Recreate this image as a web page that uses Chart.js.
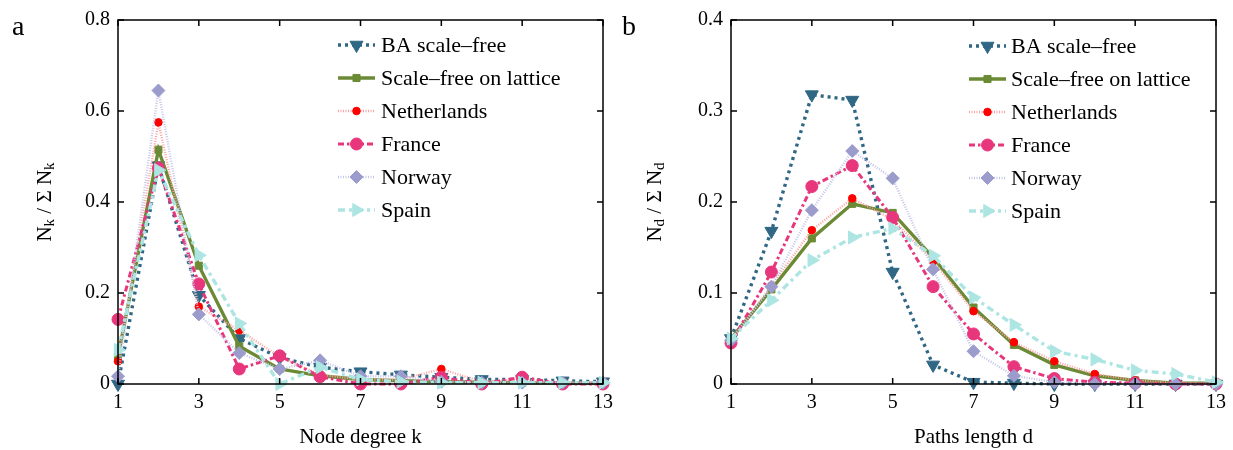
<!DOCTYPE html>
<html>
<head>
<meta charset="utf-8">
<script src="https://cdn.jsdelivr.net/npm/chart.js@4/dist/chart.umd.min.js"></script>
<style>
  body { margin: 0; background: #fff; }
  #wrap { position: relative; width: 1233px; height: 450px; background: #fff; }
  .panel { position: absolute; top: 0; width: 620px; height: 450px; }
  .tag { position: absolute; top: 10px; font: 28px "Liberation Serif", serif; color: #000; }
</style>
</head>
<body>
<div id="wrap">
  <div class="panel" style="left:0"><canvas id="chartA"></canvas></div>
  <div class="panel" style="left:613px"><canvas id="chartB"></canvas></div>
  <div class="tag" style="left:12px">a</div>
  <div class="tag" style="left:622px">b</div>
</div>
<script>
// x values
const nodeDegree = [1, 2, 3, 4, 5, 6, 7, 8, 9, 10, 11, 12, 13];
const pathLength = [1, 2, 3, 4, 5, 6, 7, 8, 9, 10, 11, 12, 13];

// panel a : N_k / sum N_k
const degBA = [0.0, 0.48, 0.195, 0.10, 0.058, 0.037, 0.027, 0.02, 0.015, 0.01, 0.01, 0.007, 0.005];
const degLattice = [0.06, 0.515, 0.26, 0.083, 0.033, 0.018, 0.01, 0.007, 0.005, 0.004, 0.003, 0.002, 0.002];
const degNetherlands = [0.05, 0.575, 0.17, 0.118, 0.06, 0.02, 0.01, 0.01, 0.033, 0.005, 0.01, 0.003, 0.003];
const degFrance = [0.142, 0.475, 0.22, 0.033, 0.062, 0.016, 0.0, 0.0, 0.015, 0.0, 0.015, 0.0, 0.0];
const degNorway = [0.017, 0.645, 0.153, 0.068, 0.033, 0.052, 0.017, 0.017, 0.005, 0.003, 0.003, 0.003, 0.003];
const degSpain = [0.075, 0.47, 0.283, 0.133, 0.0, 0.037, 0.01, 0.005, 0.003, 0.003, 0.003, 0.003, 0.003];

// panel b : N_d / sum N_d
const pathBA = [0.05, 0.168, 0.318, 0.312, 0.123, 0.021, 0.002, 0.001, 0.0, 0.0, 0.0, 0.0, 0.0];
const pathLattice = [0.05, 0.104, 0.16, 0.198, 0.188, 0.139, 0.084, 0.043, 0.021, 0.009, 0.004, 0.001, 0.001];
const pathNetherlands = [0.048, 0.108, 0.169, 0.204, 0.181, 0.135, 0.08, 0.046, 0.025, 0.011, 0.004, 0.001, 0.0];
const pathFrance = [0.045, 0.123, 0.217, 0.24, 0.183, 0.107, 0.055, 0.019, 0.006, 0.002, 0.001, 0.0, 0.0];
const pathNorway = [0.048, 0.107, 0.191, 0.256, 0.226, 0.126, 0.036, 0.009, 0.002, 0.0, 0.0, 0.0, 0.0];
const pathSpain = [0.05, 0.092, 0.136, 0.161, 0.171, 0.141, 0.095, 0.065, 0.036, 0.027, 0.015, 0.011, 0.002];

const seriesNames = ["BA scale\u2013free", "Scale\u2013free on lattice", "Netherlands", "France", "Norway", "Spain"];
const xTicksA = [1, 3, 5, 7, 9, 11, 13];
const yTicksA = [0, 0.2, 0.4, 0.6, 0.8];
const yTicksB = [0, 0.1, 0.2, 0.3, 0.4];

Chart.defaults.font.family = '"Liberation Serif", "Times New Roman", serif';
Chart.defaults.font.size = 20;
Chart.defaults.color = "#000";

// line + marker look of each series
const looks = [
  { color: "#2f6784", line: "#2f6784", width: 3.4, dash: [3, 4], style: "triangle", rot: 180, r: 7.5 },
  { color: "#6b8a35", line: "#6b8a35", width: 3.4, dash: [], style: "rect", rot: 0, r: 5 },
  { color: "#ff0000", line: "#ffa0a0", width: 2.4, dash: [1, 1.5], style: "circle", rot: 0, r: 3.8 },
  { color: "#e8367c", line: "#e8367c", width: 3, dash: [6, 3, 2.5, 3], style: "circle", rot: 0, r: 6 },
  { color: "#9c9ccc", line: "#c4c4ea", width: 2.4, dash: [1, 1.5], style: "rectRot", rot: 0, r: 6.5 },
  { color: "#ade5e3", line: "#ade5e3", width: 3.4, dash: [7, 4, 3, 4], style: "triangle", rot: 90, r: 7.5 }
];

function makeSets(xs, lists) {
  return lists.map((ys, i) => {
    const lk = looks[i];
    return {
      label: seriesNames[i],
      data: xs.map((x, j) => ({ x: x, y: ys[j] })),
      borderColor: lk.line,
      borderWidth: lk.width,
      borderDash: lk.dash,
      backgroundColor: lk.color,
      pointBackgroundColor: lk.color,
      pointBorderColor: lk.color,
      pointBorderWidth: 1,
      pointStyle: lk.style,
      pointRotation: lk.rot,
      pointRadius: lk.r,
      tension: 0,
      clip: false,
      order: 6 - i
    };
  });
}

// box, inward ticks, y title with subscripts, legend
const decoPlugin = {
  id: "deco",
  afterDatasetsDraw(chart, args, opts) {
    const ctx = chart.ctx;
    const a = chart.chartArea;
    const xs = chart.scales.x, ys = chart.scales.y;
    ctx.save();
    ctx.strokeStyle = "#000";
    ctx.lineWidth = 1.5;
    ctx.setLineDash([]);
    ctx.strokeRect(a.left, a.top, a.right - a.left, a.bottom - a.top);
    const tl = 6;
    ctx.beginPath();
    xs.ticks.forEach(t => {
      const px = xs.getPixelForValue(t.value);
      ctx.moveTo(px, a.bottom); ctx.lineTo(px, a.bottom - tl);
      ctx.moveTo(px, a.top); ctx.lineTo(px, a.top + tl);
    });
    ys.ticks.forEach(t => {
      const py = ys.getPixelForValue(t.value);
      ctx.moveTo(a.left, py); ctx.lineTo(a.left + tl, py);
      ctx.moveTo(a.right, py); ctx.lineTo(a.right - tl, py);
    });
    ctx.stroke();

    // y title: N_s / Σ N_s
    const big = '21px "Liberation Serif", serif';
    const small = '15px "Liberation Serif", serif';
    const parts = [["N", big, 0], [opts.sub, small, 5], [" / \u03A3 N", big, 0], [opts.sub, small, 5]];
    let total = 0;
    parts.forEach(p => { ctx.font = p[1]; total += ctx.measureText(p[0]).width; });
    ctx.translate(opts.titleX, (a.top + a.bottom) / 2);
    ctx.rotate(-Math.PI / 2);
    ctx.fillStyle = "#000";
    ctx.textBaseline = "middle";
    let cx = -total / 2;
    parts.forEach(p => {
      ctx.font = p[1];
      ctx.fillText(p[0], cx, p[2]);
      cx += ctx.measureText(p[0]).width;
    });
    ctx.setTransform(1, 0, 0, 1, 0, 0);
    ctx.restore();

    // legend
    ctx.save();
    const L = opts.legend;
    chart.data.datasets.forEach((ds, i) => {
      const y = L.top + i * L.step;
      ctx.strokeStyle = ds.borderColor;
      ctx.lineWidth = ds.borderWidth;
      ctx.setLineDash(ds.borderDash);
      ctx.beginPath();
      ctx.moveTo(L.x0, y); ctx.lineTo(L.x1, y);
      ctx.stroke();
      ctx.setLineDash([]);
      ctx.fillStyle = ds.pointBackgroundColor;
      ctx.strokeStyle = ds.pointBorderColor;
      ctx.lineWidth = 1;
      Chart.helpers.drawPoint(ctx, {
        pointStyle: ds.pointStyle, rotation: ds.pointRotation,
        radius: ds.pointRadius, borderWidth: 1
      }, (L.x0 + L.x1) / 2, y);
      ctx.fillStyle = "#000";
      ctx.font = '22px "Liberation Serif", serif';
      ctx.textBaseline = "middle";
      ctx.fillText(ds.label, L.tx, y + 1);
    });
    ctx.restore();
  }
};

function makeChart(id, xs, lists, yTicks, xTitle, deco, padRight) {
  return new Chart(document.getElementById(id), {
    type: "line",
    data: { datasets: makeSets(xs, lists) },
    options: {
      responsive: true,
      maintainAspectRatio: false,
      animation: false,
      layout: { padding: { left: 0, right: padRight, top: 18, bottom: 0 } },
      plugins: { legend: { display: false }, tooltip: { enabled: false }, deco: deco },
      scales: {
        x: {
          type: "linear", min: xTicksA[0], max: xTicksA[xTicksA.length - 1],
          afterBuildTicks: s => { s.ticks = xTicksA.map(v => ({ value: v })); },
          ticks: { padding: 7, maxRotation: 0, callback: v => String(v) },
          grid: { display: false, drawTicks: false },
          border: { display: false },
          title: { display: true, text: xTitle, font: { size: 21 }, padding: { top: 2, bottom: 0 } },
          afterFit: s => { s.height = 66; }
        },
        y: {
          min: yTicks[0], max: yTicks[yTicks.length - 1],
          afterBuildTicks: s => { s.ticks = yTicks.map(v => ({ value: v })); },
          ticks: { padding: 8, callback: v => (v === 0 ? "0" : v.toFixed(1)) },
          grid: { display: false, drawTicks: false },
          border: { display: false },
          afterFit: s => { s.width = 118; }
        }
      }
    },
    plugins: [decoPlugin]
  });
}

makeChart("chartA", nodeDegree,
  [degBA, degLattice, degNetherlands, degFrance, degNorway, degSpain],
  yTicksA, "Node degree k",
  { sub: "k", titleX: 45, legend: { x0: 338, x1: 375, tx: 381, top: 45, step: 33 } }, 14);

makeChart("chartB", pathLength,
  [pathBA, pathLattice, pathNetherlands, pathFrance, pathNorway, pathSpain],
  yTicksB, "Paths length d",
  { sub: "d", titleX: 42, legend: { x0: 356, x1: 393, tx: 398, top: 46, step: 33 } }, 16);
</script>
</body>
</html>
